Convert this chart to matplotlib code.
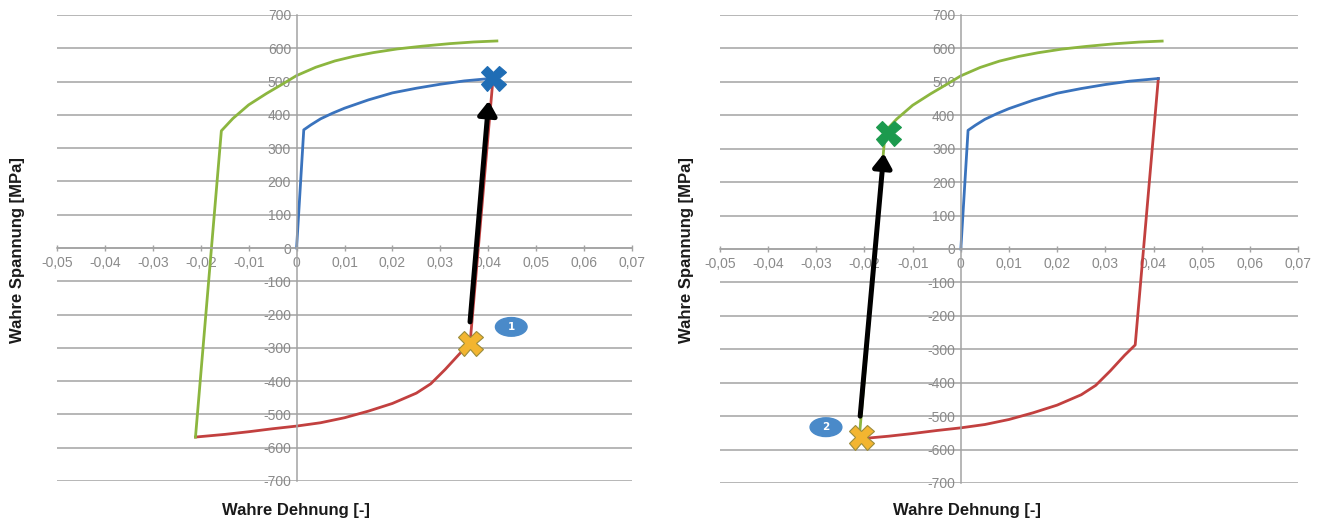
import matplotlib
matplotlib.use("Agg")
import matplotlib.pyplot as plt
from matplotlib.patches import Ellipse
from matplotlib.ticker import FuncFormatter

# blue: first loading (tension)
blue_strain = [0, 0.0015, 0.003, 0.005, 0.0075, 0.01, 0.015, 0.02, 0.025, 0.03, 0.035, 0.041]
blue_stress = [0, 355, 370, 388, 405, 420, 445, 466, 480, 492, 502, 510]

# red: unloading / compression branch
red_strain = [-0.0211, -0.015, -0.01, -0.005, 0, 0.005, 0.01, 0.015, 0.02, 0.025,
              0.028, 0.031, 0.034, 0.0362, 0.041]
red_stress = [-568, -560, -552, -543, -535, -525, -510, -490, -467, -436,
              -408, -365, -318, -287, 510]

# green: reloading branch
green_strain = [-0.0211, -0.0157, -0.0133, -0.01, -0.0063, -0.003, 0, 0.004, 0.008,
                0.012, 0.016, 0.021, 0.026, 0.032, 0.037, 0.0418]
green_stress = [-568, 352, 389, 430, 464, 492, 518, 543, 562, 576, 587, 598, 606, 614, 619, 622]

# markers, arrows and numbered labels per panel
panel_marks = [
    {"x_pts": [(0.041, 510, "#1f6db5"), (0.0362, -285, "#f3b530")],
     "arrow_tail": (0.0362, -222), "arrow_tip": (0.0401, 442),
     "label_pos": (0.0448, -237), "label": "1"},
    {"x_pts": [(-0.0152, 348, "#1c9a4e"), (-0.0207, -563, "#f3b530")],
     "arrow_tail": (-0.0209, -500), "arrow_tip": (-0.0160, 286),
     "label_pos": (-0.0280, -533), "label": "2"},
]

x_ticks = [-0.05, -0.04, -0.03, -0.02, -0.01, 0, 0.01, 0.02, 0.03, 0.04, 0.05, 0.06, 0.07]
y_ticks = list(range(-700, 701, 100))

BLUE = "#3a73bd"
RED = "#c2403f"
GREEN = "#8cb63f"
GRID = "#a3a3a3"
TICK_COL = "#8a8a8a"

fig = plt.figure(figsize=(13.28, 5.24), dpi=100)
axes_rects = [[57 / 1328, 1 - 481 / 524, 575 / 1328, 466 / 524],
              [720 / 1328, 1 - 483 / 524, 578 / 1328, 468 / 524]]


def fmt_x(v, _):
    if abs(v) < 1e-9:
        return "0"
    return f"{v:.2f}".replace(".", ",")


def draw_panel(ax, marks):
    ax.set_xlim(-0.05, 0.07)
    ax.set_ylim(-700, 700)
    for y in y_ticks:
        ax.axhline(y, color=GRID, lw=1.1, zorder=0)

    ax.plot(red_strain, red_stress, color=RED, lw=2.0, zorder=2)
    ax.plot(blue_strain, blue_stress, color=BLUE, lw=2.0, zorder=2)
    ax.plot(green_strain, green_stress, color=GREEN, lw=2.0, zorder=2)

    ax.annotate("", xy=marks["arrow_tip"], xytext=marks["arrow_tail"],
                arrowprops=dict(arrowstyle="-|>,head_length=0.42,head_width=0.28",
                                lw=3.6, color="black", shrinkA=0, shrinkB=0,
                                mutation_scale=20),
                zorder=3)

    for x, y, c in marks["x_pts"]:
        edge = "#9b8c3c" if c == "#f3b530" else c
        ax.plot([x], [y], marker="X", ms=18, color=c, mec=edge, mew=0.8, zorder=4)

    lx, ly = marks["label_pos"]
    ax.add_patch(Ellipse((lx, ly), 0.0066, 56, color="#4a8ac9", zorder=5))
    ax.text(lx, ly, marks["label"], color="white", fontsize=7.5, fontweight="bold",
            ha="center", va="center", zorder=6)

    for side in ("top", "right"):
        ax.spines[side].set_visible(False)
    ax.spines["left"].set_position(("data", 0))
    ax.spines["bottom"].set_position(("data", 0))
    ax.spines["left"].set_color(GRID)
    ax.spines["bottom"].set_color(GRID)
    ax.spines["left"].set_linewidth(1.1)
    ax.spines["bottom"].set_linewidth(1.1)

    ax.set_xticks(x_ticks)
    ax.set_yticks(y_ticks)
    ax.xaxis.set_major_formatter(FuncFormatter(fmt_x))
    ax.yaxis.set_major_formatter(FuncFormatter(lambda v, _: f"{int(v)}"))
    ax.tick_params(axis="x", direction="inout", length=5, width=1.0, color=GRID,
                   labelsize=10, labelcolor=TICK_COL, pad=3)
    ax.tick_params(axis="y", length=0, labelsize=10, labelcolor=TICK_COL, pad=4)
    for lab in ax.get_xticklabels() + ax.get_yticklabels():
        lab.set_fontfamily("Liberation Sans")
    ax.set_facecolor("none")


for rect, marks in zip(axes_rects, panel_marks):
    ax = fig.add_axes(rect)
    draw_panel(ax, marks)

label_font = dict(fontsize=12, fontweight="bold", color="#1a1a1a", family="Liberation Sans")
fig.text(18 / 1328, 1 - 250 / 524, "Wahre Spannung [MPa]", rotation=90,
         ha="center", va="center", **label_font)
fig.text(686 / 1328, 1 - 250 / 524, "Wahre Spannung [MPa]", rotation=90,
         ha="center", va="center", **label_font)
fig.text(296 / 1328, 1 - 510 / 524, "Wahre Dehnung [-]", ha="center", va="center", **label_font)
fig.text(967 / 1328, 1 - 510 / 524, "Wahre Dehnung [-]", ha="center", va="center", **label_font)

fig.savefig("out.png", dpi=100)
